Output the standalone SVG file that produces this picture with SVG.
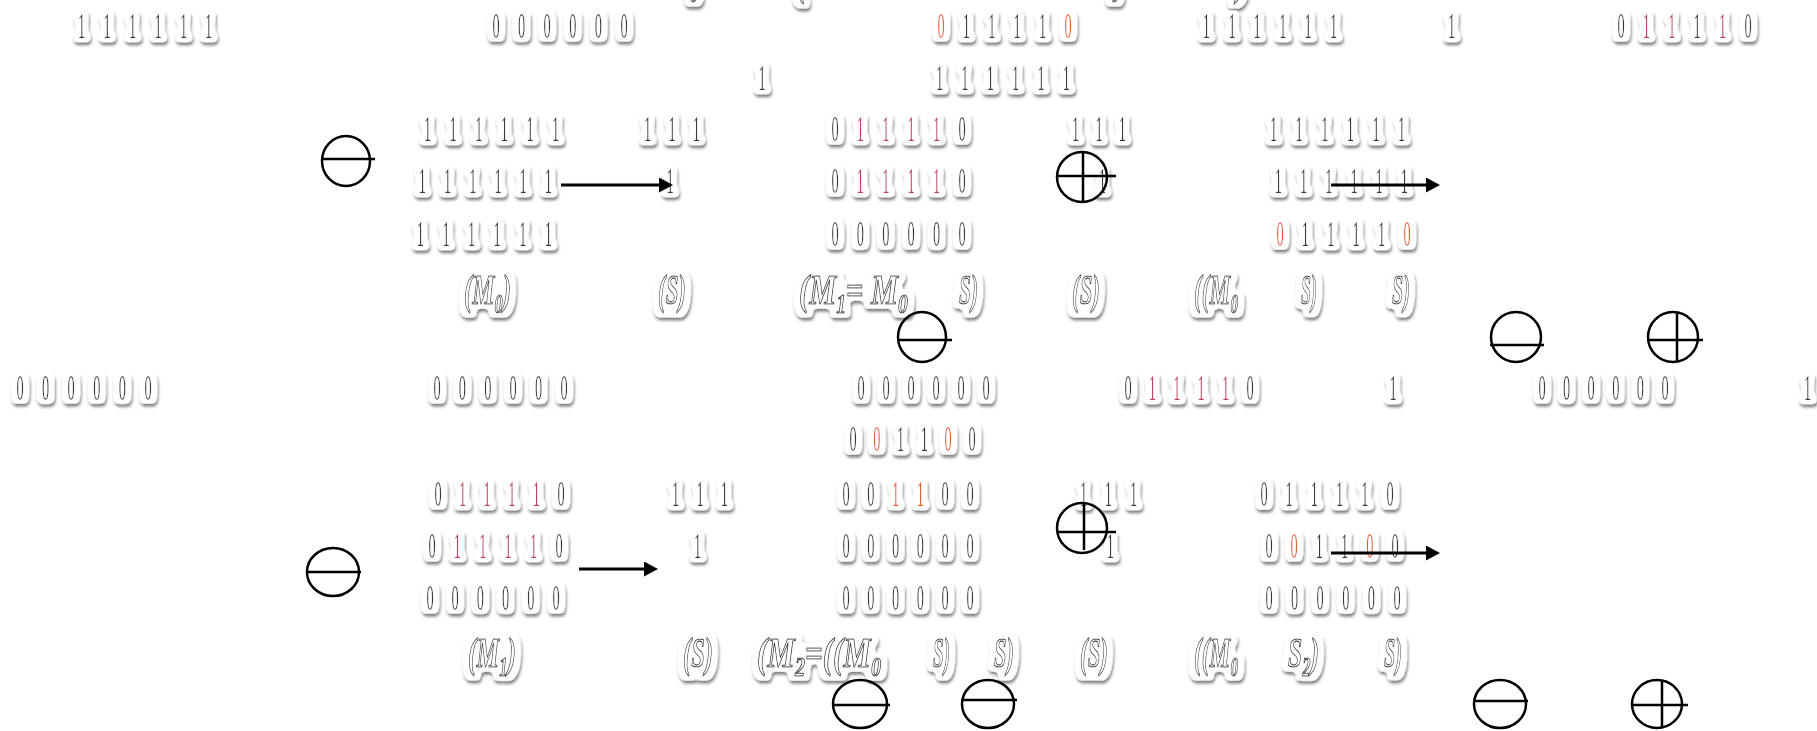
<svg xmlns="http://www.w3.org/2000/svg" width="1817" height="731" viewBox="0 0 1817 731">
<style>
.d{font-family:"Liberation Serif",serif;font-size:36px;fill:#3a3a3a;text-anchor:middle}
.lb{font-family:"Liberation Serif",serif;font-size:43px;font-weight:bold;font-style:italic;fill:#fff;stroke:#333;stroke-width:1.1}
.sub{font-size:28px}
.r{fill:#c2405e}
.o{fill:#e8602a}
.halo{filter:url(#halo)}
.op{fill:none;stroke:#000;stroke-width:2.5}
.arrow{stroke:#000;stroke-width:3;fill:none;marker-end:url(#ah)}
</style>
<defs>
<filter id="halo" x="-50%" y="-40%" width="200%" height="180%">
<feMorphology in="SourceAlpha" operator="dilate" radius="6 4" result="d0"/>
<feGaussianBlur in="d0" stdDeviation="2.2" result="b0"/>
<feComponentTransfer in="b0" result="d"><feFuncA type="linear" slope="4" intercept="-1.4"/></feComponentTransfer>
<feGaussianBlur in="d" stdDeviation="1.4" result="b"/>
<feOffset in="b" dx="1" dy="2.5" result="ob"/>
<feFlood flood-color="#000" flood-opacity="0.5"/>
<feComposite in2="ob" operator="in" result="shadow"/>
<feFlood flood-color="#fff"/>
<feComposite in2="d" operator="in" result="white"/>
<feMerge><feMergeNode in="shadow"/><feMergeNode in="white"/><feMergeNode in="SourceGraphic"/></feMerge>
</filter>
<marker id="ah" markerUnits="userSpaceOnUse" markerWidth="15" markerHeight="16" refX="0" refY="7.5" orient="auto"><path d="M0,0 L14,7.5 L0,15 z" fill="#000"/></marker>
</defs>
<rect width="1817" height="731" fill="#fff"/>

<g id="cut-labels" class="halo">
<text class="lb" x="797" y="-5" textLength="9" lengthAdjust="spacingAndGlyphs">(</text>
<text class="lb" x="1236" y="-5" textLength="9" lengthAdjust="spacingAndGlyphs">)</text>
<text class="lb sub" x="690" y="2" textLength="8" lengthAdjust="spacingAndGlyphs">0</text>
<text class="lb sub" x="1111" y="2" textLength="8" lengthAdjust="spacingAndGlyphs">0</text>
</g>

<g id="row-a" class="halo">
<text class="d" transform="scale(0.4,1)" x="203.75 267.5 331.25 395 458.75 521.25" y="38">111111</text>
<text class="d" transform="scale(0.4,1)" x="1240 1304 1368 1432 1496 1560" y="38">000000</text>
<text class="d" transform="scale(0.4,1)" x="2352.5 2416 2479.5 2543 2606.5 2670" y="38"><tspan class="o">0</tspan>1111<tspan class="o">0</tspan></text>
<text class="d" transform="scale(0.4,1)" x="3016 3080 3143 3207 3270 3334" y="38">111111</text>
<text class="d" transform="scale(0.4,1)" x="3629" y="38">1</text>
<text class="d" transform="scale(0.4,1)" x="4052.5 4116 4179.5 4243 4306.5 4370" y="38">0<tspan class="r">11</tspan>1<tspan class="r">1</tspan>0</text>
</g>

<g id="row-b" class="halo">
<text class="d" transform="scale(0.4,1)" x="1905" y="90">1</text>
<text class="d" transform="scale(0.4,1)" x="2349 2412 2476 2539 2603 2666" y="90">111111</text>
</g>

<g id="op-minus-1">
<ellipse class="op" cx="346" cy="161" rx="24" ry="25"/>
<line class="op" x1="322" y1="159" x2="375" y2="159"/>
</g>

<g id="matrix-m0" class="halo">
<text class="d" transform="scale(0.4,1)" x="1069 1133 1197 1261 1325 1389" y="141">111111</text>
<text class="d" transform="scale(0.4,1)" x="1056 1119 1182 1245 1308 1371" y="193">111111</text>
<text class="d" transform="scale(0.4,1)" x="1051 1115 1179 1243 1307 1371" y="246">111111</text>
</g>

<g id="se-1" class="halo">
<text class="d" transform="scale(0.4,1)" x="1619 1680 1741" y="141">111</text>
<text class="d" transform="scale(0.4,1)" x="1675" y="193">1</text>
</g>

<g id="matrix-m1" class="halo">
<text class="d" transform="scale(0.4,1)" x="2087.5 2151 2214.5 2278 2341.5 2405" y="141">0<tspan class="r">1111</tspan>0</text>
<text class="d" transform="scale(0.4,1)" x="2087.5 2151 2214.5 2278 2341.5 2405" y="193">0<tspan class="r">1111</tspan>0</text>
<text class="d" transform="scale(0.4,1)" x="2087.5 2151 2214.5 2278 2341.5 2405" y="246">000000</text>
</g>

<g id="se-2" class="halo">
<text class="d" transform="scale(0.4,1)" x="2689 2747.5 2806" y="141">111</text>
<text class="d" transform="scale(0.4,1)" x="2756" y="193">1</text>
</g>

<g id="op-plus-1">
<ellipse class="op" cx="1082" cy="177" rx="25" ry="25"/>
<line class="op" x1="1057" y1="176" x2="1116" y2="176"/>
<line class="op" x1="1083" y1="152" x2="1083" y2="202"/>
</g>

<g id="matrix-r1" class="halo">
<text class="d" transform="scale(0.4,1)" x="3184 3248 3312 3376 3440 3504" y="141">111111</text>
<text class="d" transform="scale(0.4,1)" x="3196 3259 3322 3385 3448 3511" y="193">111111</text>
<text class="d" transform="scale(0.4,1)" x="3200 3263.5 3327 3390.5 3454 3517.5" y="246"><tspan class="o">0</tspan>1111<tspan class="o">0</tspan></text>
</g>

<g id="labels-1" class="halo">
<text class="lb" x="464" y="304" textLength="47" lengthAdjust="spacingAndGlyphs">(M<tspan class="sub" dy="9">0</tspan><tspan dy="-9">)</tspan></text>
<text class="lb" x="658" y="304" textLength="28" lengthAdjust="spacingAndGlyphs">(S)</text>
<text class="lb" x="799" y="304" textLength="109" lengthAdjust="spacingAndGlyphs">(M<tspan class="sub" dy="9">1</tspan><tspan dy="-9">= M</tspan><tspan class="sub" dy="9">0</tspan></text>
<text class="lb" x="959" y="304" textLength="19" lengthAdjust="spacingAndGlyphs">S)</text>
<text class="lb" x="1072" y="304" textLength="28" lengthAdjust="spacingAndGlyphs">(S)</text>
<text class="lb" x="1194" y="304" textLength="44" lengthAdjust="spacingAndGlyphs">((M<tspan class="sub" dy="9">0</tspan></text>
<text class="lb" x="1301" y="304" textLength="16" lengthAdjust="spacingAndGlyphs">S)</text>
<text class="lb" x="1392" y="304" textLength="18" lengthAdjust="spacingAndGlyphs">S)</text>
</g>

<g id="op-minus-2">
<ellipse class="op" cx="922" cy="337" rx="24" ry="25"/>
<line class="op" x1="898" y1="340" x2="952" y2="340"/>
</g>
<g id="op-minus-3">
<ellipse class="op" cx="1516" cy="337" rx="25" ry="25"/>
<line class="op" x1="1490" y1="345" x2="1544" y2="345"/>
</g>
<g id="op-plus-2">
<ellipse class="op" cx="1673" cy="337" rx="25" ry="25"/>
<line class="op" x1="1649" y1="340" x2="1703" y2="340"/>
<line class="op" x1="1677" y1="312" x2="1677" y2="362"/>
</g>

<g id="row-c" class="halo">
<text class="d" transform="scale(0.4,1)" x="50 114 178 242 306 370" y="400">000000</text>
<text class="d" transform="scale(0.4,1)" x="1092.5 1156 1219.5 1283 1346.5 1410" y="400">000000</text>
<text class="d" transform="scale(0.4,1)" x="2152.5 2215 2277.5 2340 2402.5 2465" y="400">000000</text>
<text class="d" transform="scale(0.4,1)" x="2820 2881 2942 3003 3064 3125" y="400">0<tspan class="r">1111</tspan>0</text>
<text class="d" transform="scale(0.4,1)" x="3482.5" y="400">1</text>
<text class="d" transform="scale(0.4,1)" x="3855 3916.5 3978 4039.5 4101 4162.5" y="400">000000</text>
<text class="d" transform="scale(0.4,1)" x="4518.75" y="400">1</text>
</g>

<g id="row-d" class="halo">
<text class="d" transform="scale(0.4,1)" x="2132.5 2192 2251.5 2311 2370.5 2430" y="451">0<tspan class="o">0</tspan>11<tspan class="o">0</tspan>0</text>
</g>

<g id="op-minus-4">
<ellipse class="op" cx="333" cy="572" rx="26" ry="24"/>
<line class="op" x1="306" y1="572" x2="361" y2="572"/>
</g>

<g id="matrix-m1b" class="halo">
<text class="d" transform="scale(0.4,1)" x="1095 1156.5 1218 1279.5 1341 1402.5" y="506">0<tspan class="r">1111</tspan>0</text>
<text class="d" transform="scale(0.4,1)" x="1080 1143.5 1207 1270.5 1334 1397.5" y="558">0<tspan class="r">1111</tspan>0</text>
<text class="d" transform="scale(0.4,1)" x="1075 1138 1201 1264 1327 1390" y="610">000000</text>
</g>

<g id="se-3" class="halo">
<text class="d" transform="scale(0.4,1)" x="1689 1750 1811" y="506">111</text>
<text class="d" transform="scale(0.4,1)" x="1744" y="558">1</text>
</g>

<g id="matrix-m2" class="halo">
<text class="d" transform="scale(0.4,1)" x="2115 2177 2239 2301 2363 2425" y="506">00<tspan class="o">11</tspan>00</text>
<text class="d" transform="scale(0.4,1)" x="2115 2177 2239 2301 2363 2425" y="558">000000</text>
<text class="d" transform="scale(0.4,1)" x="2115 2177 2239 2301 2363 2425" y="610">000000</text>
</g>

<g id="se-4" class="halo">
<text class="d" transform="scale(0.4,1)" x="2709 2771 2834" y="506">111</text>
<text class="d" transform="scale(0.4,1)" x="2776" y="558">1</text>
</g>

<g id="op-plus-3">
<ellipse class="op" cx="1082" cy="528" rx="25" ry="25"/>
<line class="op" x1="1057" y1="532" x2="1116" y2="532"/>
<line class="op" x1="1084" y1="502" x2="1084" y2="550"/>
</g>

<g id="matrix-r2" class="halo">
<text class="d" transform="scale(0.4,1)" x="3160 3223 3286 3349 3412 3475" y="506">011110</text>
<text class="d" transform="scale(0.4,1)" x="3172.5 3235.5 3298.5 3361.5 3424.5 3487.5" y="558">0<tspan class="o">0</tspan>11<tspan class="o">0</tspan>0</text>
<text class="d" transform="scale(0.4,1)" x="3172.5 3236.5 3300.5 3364.5 3428.5 3492.5" y="610">000000</text>
</g>

<g id="labels-2" class="halo">
<text class="lb" x="468" y="667" textLength="48" lengthAdjust="spacingAndGlyphs">(M<tspan class="sub" dy="9">1</tspan><tspan dy="-9">)</tspan></text>
<text class="lb" x="683" y="667" textLength="30" lengthAdjust="spacingAndGlyphs">(S)</text>
<text class="lb" x="757" y="667" textLength="124" lengthAdjust="spacingAndGlyphs">(M<tspan class="sub" dy="9">2</tspan><tspan dy="-9">=((M</tspan><tspan class="sub" dy="9">0</tspan></text>
<text class="lb" x="933" y="667" textLength="17" lengthAdjust="spacingAndGlyphs">S)</text>
<text class="lb" x="994" y="667" textLength="20" lengthAdjust="spacingAndGlyphs">S)</text>
<text class="lb" x="1080" y="667" textLength="28" lengthAdjust="spacingAndGlyphs">(S)</text>
<text class="lb" x="1194" y="667" textLength="44" lengthAdjust="spacingAndGlyphs">((M<tspan class="sub" dy="9">0</tspan></text>
<text class="lb" x="1288" y="667" textLength="31" lengthAdjust="spacingAndGlyphs">S<tspan class="sub" dy="9">2</tspan><tspan dy="-9">)</tspan></text>
<text class="lb" x="1384" y="667" textLength="18" lengthAdjust="spacingAndGlyphs">S)</text>
</g>

<g id="op-minus-5">
<ellipse class="op" cx="860" cy="704" rx="27" ry="24"/>
<line class="op" x1="832" y1="705" x2="890" y2="705"/>
</g>
<g id="op-minus-6">
<ellipse class="op" cx="988" cy="704" rx="26" ry="24"/>
<line class="op" x1="962" y1="700" x2="1017" y2="700"/>
</g>
<g id="op-minus-7">
<ellipse class="op" cx="1500" cy="704" rx="26" ry="24"/>
<line class="op" x1="1474" y1="701" x2="1528" y2="701"/>
</g>
<g id="op-plus-4">
<ellipse class="op" cx="1657" cy="704" rx="25" ry="24"/>
<line class="op" x1="1633" y1="705" x2="1688" y2="705"/>
<line class="op" x1="1662" y1="680" x2="1662" y2="728"/>
</g>

<g id="connectors">
<line class="arrow" x1="561" y1="185" x2="659" y2="185"/>
<line class="arrow" x1="1331" y1="185" x2="1426" y2="185"/>
<line class="arrow" x1="579" y1="569" x2="644" y2="569"/>
<line class="arrow" x1="1331" y1="553" x2="1426" y2="553"/>
</g>
</svg>
